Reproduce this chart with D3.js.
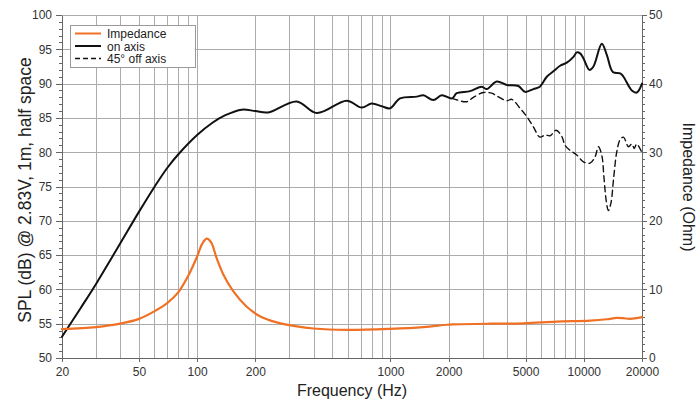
<!DOCTYPE html>
<html lang="en">
<head>
<meta charset="utf-8">
<title>SPL and impedance</title>
<script src="https://cdn.jsdelivr.net/npm/d3@7"></script>
<style>
  body { margin: 0; background: #fff; }
  svg { font-family: "Liberation Sans", Arial, Helvetica, sans-serif; }
  .grid line { stroke: #ababab; stroke-width: 1; shape-rendering: crispEdges; }
  .axis path, .axis line { stroke: #666; shape-rendering: crispEdges; }
  .axis text { fill: #333; font-size: 12px; }
  .title { fill: #222; font-size: 16px; }
  .curve { fill: none; stroke-linejoin: round; stroke-linecap: round; }
</style>
</head>
<body>
<div id="chart"></div>
<script>
// on axis SPL (dB)
var freqOn = [20, 25, 30, 40, 50, 60, 70, 80, 100, 120, 140, 170, 200, 233, 327, 416, 594, 710, 800, 902,
  995, 1121, 1368, 1480, 1667, 1842, 2080, 2203, 2580, 2966, 3148, 3546, 3995, 4590, 4970, 5483, 5923,
  6435, 6963, 7541, 8165, 8840, 9200, 9570, 9950, 10690, 11220, 12390, 13150, 14130, 15420, 16040,
  17720, 18800, 20000];
var splOn = [53.1, 57.3, 60.8, 66.7, 71.3, 74.9, 77.7, 79.7, 82.5, 84.3, 85.4, 86.2, 86.0, 85.8, 87.4, 85.7,
  87.5, 86.5, 87.1, 86.7, 86.4, 87.85, 88.1, 88.3, 87.6, 88.3, 87.85, 88.6, 88.9, 89.55, 89.2, 90.3, 89.8,
  89.65, 88.8, 89.2, 89.55, 91.0, 91.8, 92.6, 93.05, 93.9, 94.55, 94.4, 93.7, 92.0, 92.5, 95.8, 94.2, 91.7,
  91.5, 91.0, 89.0, 88.7, 90.0];

// 45° off axis SPL (dB)
var freqOff = [2080, 2159, 2481, 2685, 3024, 3340, 3546, 3995, 4240, 4682, 5070, 5483, 5923, 6305, 6694,
  7188, 7695, 8004, 8470, 9200, 9950, 10780, 11430, 11900, 12400, 12700, 13050, 13400, 13800, 14300,
  14800, 15400, 16040, 17020, 17720, 18230, 18800, 20000];
var splOff = [87.85, 87.7, 87.36, 88.0, 88.7, 88.6, 88.2, 87.5, 87.7, 86.4, 85.2, 83.7, 82.2, 82.5, 82.4,
  83.2, 82.3, 81.0, 80.3, 79.6, 78.6, 78.4, 79.3, 80.8, 79.5, 76.5, 73.0, 71.5, 72.5, 76.5,
  80.0, 81.8, 82.2, 80.8, 81.2, 80.55, 81.2, 79.9];

// impedance (Ohm)
var freqImp = [20, 30, 40, 50, 60, 70, 80, 90, 100, 106, 112, 118, 126, 137, 154, 180, 211, 258, 328, 400,
  594, 995, 1479, 1955, 2100, 3275, 4870, 7250, 10780, 13150, 14810, 16000, 17360, 20000];
var impedance = [4.2, 4.5, 5.0, 5.7, 6.8, 8.0, 9.6, 12.0, 14.8, 16.6, 17.4, 16.9, 14.6, 12.1, 9.7, 7.5, 6.1,
  5.2, 4.6, 4.3, 4.1, 4.25, 4.5, 4.85, 4.9, 5.0, 5.05, 5.3, 5.45, 5.65, 5.85, 5.8, 5.7, 5.95];

var freqTicks = [20, 50, 100, 200, 1000, 2000, 5000, 10000, 20000];
var freqGrid = [20, 30, 40, 50, 60, 70, 80, 90, 100, 200, 300, 400, 500, 600, 700, 800, 900,
  1000, 2000, 3000, 4000, 5000, 6000, 7000, 8000, 9000, 10000, 20000];
var splTicks = [50, 55, 60, 65, 70, 75, 80, 85, 90, 95, 100];
var ohmTicks = [0, 10, 20, 30, 40, 50];

var legendItems = ["Impedance", "on axis", "45° off axis"];
var orange = "#f07024";

var W = 700, H = 402,
    margin = {top: 15, right: 58, bottom: 44, left: 62},
    width = W - margin.left - margin.right,
    height = H - margin.top - margin.bottom;

var svg = d3.select("#chart").append("svg")
    .attr("width", W)
    .attr("height", H);

var g = svg.append("g")
    .attr("transform", "translate(" + margin.left + "," + margin.top + ")");

var x = d3.scaleLog().domain([20, 20000]).range([0, width]),
    y = d3.scaleLinear().domain([50, 100]).range([height, 0]),
    yR = d3.scaleLinear().domain([0, 50]).range([height, 0]);

// grid
var grid = g.append("g").attr("class", "grid");
grid.selectAll(".vx").data(freqGrid).enter().append("line")
    .attr("x1", function(d) { return Math.round(x(d)) + 0.5; })
    .attr("x2", function(d) { return Math.round(x(d)) + 0.5; })
    .attr("y1", 0).attr("y2", height);
grid.selectAll(".hy").data(splTicks).enter().append("line")
    .attr("x1", 0).attr("x2", width)
    .attr("y1", function(d) { return Math.round(y(d)) + 0.5; })
    .attr("y2", function(d) { return Math.round(y(d)) + 0.5; });

// axes
g.append("g")
    .attr("class", "axis")
    .attr("transform", "translate(0," + height + ")")
    .call(d3.axisBottom(x).tickValues(freqTicks).tickFormat(d3.format("d")).tickSize(4).tickPadding(5).tickSizeOuter(0));

g.append("g")
    .attr("class", "axis")
    .call(d3.axisLeft(y).ticks(50).tickFormat("").tickSize(3).tickSizeOuter(0));
g.append("g")
    .attr("class", "axis")
    .call(d3.axisLeft(y).tickValues(splTicks).tickSize(6).tickPadding(4).tickSizeOuter(0));

g.append("g")
    .attr("class", "axis")
    .attr("transform", "translate(" + width + ",0)")
    .call(d3.axisRight(yR).ticks(50).tickFormat("").tickSize(3).tickSizeOuter(0));
g.append("g")
    .attr("class", "axis")
    .attr("transform", "translate(" + width + ",0)")
    .call(d3.axisRight(yR).tickValues(ohmTicks).tickSize(5).tickPadding(2).tickSizeOuter(0));

// curves
var lineSpl = d3.line()
    .curve(d3.curveCatmullRom.alpha(0.5))
    .x(function(d) { return x(d[0]); })
    .y(function(d) { return y(d[1]); });
var lineImp = d3.line()
    .curve(d3.curveCatmullRom.alpha(0.5))
    .x(function(d) { return x(d[0]); })
    .y(function(d) { return yR(d[1]); });

g.append("path")
    .datum(d3.zip(freqOff, splOff))
    .attr("class", "curve")
    .attr("stroke", "#111")
    .attr("stroke-width", 1.4)
    .attr("stroke-dasharray", "6,4")
    .attr("d", lineSpl);

g.append("path")
    .datum(d3.zip(freqOn, splOn))
    .attr("class", "curve")
    .attr("stroke", "#111")
    .attr("stroke-width", 2)
    .attr("d", lineSpl);

g.append("path")
    .datum(d3.zip(freqImp, impedance))
    .attr("class", "curve")
    .attr("stroke", orange)
    .attr("stroke-width", 2.2)
    .attr("d", lineImp);

// legend
var legend = g.append("g").attr("transform", "translate(8,10)");
legend.append("rect")
    .attr("x", 0.5).attr("y", 0.5)
    .attr("width", 125).attr("height", 42)
    .attr("fill", "#fff")
    .attr("stroke", "#999");
var rows = legend.selectAll(".row").data(legendItems).enter().append("g")
    .attr("transform", function(d, i) { return "translate(0," + (8.5 + i * 12.5) + ")"; });
rows.append("line")
    .attr("x1", 5).attr("x2", 31)
    .attr("y1", 0).attr("y2", 0)
    .attr("stroke", function(d, i) { return i === 0 ? orange : "#111"; })
    .attr("stroke-width", function(d, i) { return i === 2 ? 1.4 : 2; })
    .attr("stroke-dasharray", function(d, i) { return i === 2 ? "5,3" : null; });
rows.append("text")
    .attr("x", 37).attr("y", 4.5)
    .attr("fill", "#222")
    .style("font-size", "12px")
    .text(function(d) { return d; });

// titles
svg.append("text")
    .attr("class", "title")
    .attr("text-anchor", "middle")
    .attr("x", margin.left + width / 2)
    .attr("y", 396)
    .text("Frequency (Hz)");

svg.append("text")
    .attr("class", "title")
    .attr("text-anchor", "middle")
    .attr("transform", "translate(31," + 190 + ") rotate(-90)")
    .style("font-size", "17.5px")
    .text("SPL (dB) @ 2.83V, 1m, half space");

svg.append("text")
    .attr("class", "title")
    .attr("text-anchor", "middle")
    .attr("transform", "translate(683," + 187 + ") rotate(90)")
    .text("Impedance (Ohm)");
</script>
</body>
</html>
